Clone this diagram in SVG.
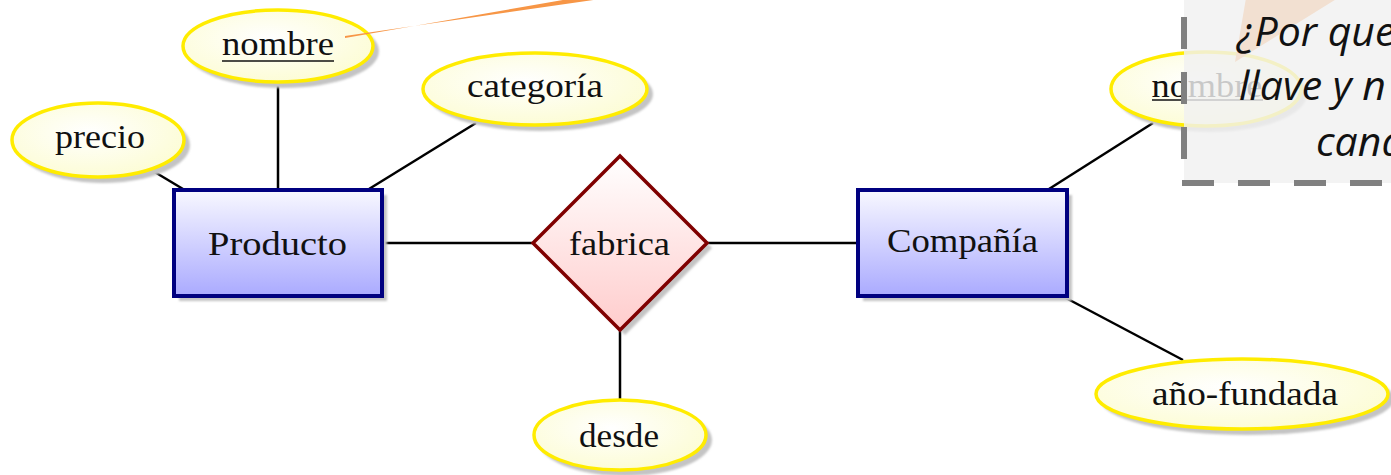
<svg xmlns="http://www.w3.org/2000/svg" width="1391" height="475" viewBox="0 0 1391 475">
<style>
.attr{fill:url(#yg);stroke:#ffec00;stroke-width:3.5}
.shadow{fill:#c4c4c4;filter:url(#bl)}
.ent{fill:url(#bg);stroke:#000080;stroke-width:4}
.rel{fill:url(#rg);stroke:#800000;stroke-width:3.5}
.lbl{font-family:"Liberation Serif","DejaVu Serif",serif;font-size:33px;fill:#111;text-anchor:middle}
.ul{stroke:#111;stroke-width:1.6}
.conn line{stroke:#000;stroke-width:2.5}
.note{font-family:"Open Sans","DejaVu Sans",sans-serif;font-style:italic;font-size:41px;fill:#111}
</style>
<defs>
<radialGradient id="yg" cx="0.45" cy="0.4" r="0.7">
<stop offset="0" stop-color="#ffffff"/>
<stop offset="1" stop-color="#fcfccf"/>
</radialGradient>
<linearGradient id="bg" x1="0" y1="0" x2="0" y2="1">
<stop offset="0" stop-color="#f8f8ff"/>
<stop offset="1" stop-color="#aaaaff"/>
</linearGradient>
<linearGradient id="rg" x1="0" y1="0" x2="0" y2="1">
<stop offset="0" stop-color="#ffffff"/>
<stop offset="1" stop-color="#ffcccc"/>
</linearGradient>
<filter id="bl" x="-10%" y="-10%" width="120%" height="120%"><feGaussianBlur stdDeviation="1.2"/></filter>
</defs>

<g class="conn">
<line x1="383" y1="243" x2="533" y2="243"/>
<line x1="707" y1="243" x2="857" y2="243"/>
<line x1="620" y1="330" x2="620" y2="400"/>
<line x1="278" y1="84" x2="278" y2="190"/>
<line x1="153" y1="171" x2="183" y2="189"/>
<line x1="476" y1="123" x2="369" y2="189"/>
<line x1="1049" y1="189" x2="1153" y2="123"/>
<line x1="1064" y1="297" x2="1183" y2="360"/>
</g>

<g id="precio">
<ellipse class="shadow" cx="103" cy="145" rx="87" ry="38"/>
<ellipse class="attr" cx="98" cy="140" rx="86" ry="37"/>
<text class="lbl" x="100" y="148" textLength="90" lengthAdjust="spacingAndGlyphs">precio</text>
</g>

<g id="nombre">
<ellipse class="shadow" cx="283" cy="51" rx="96" ry="37"/>
<ellipse class="attr" cx="278" cy="46" rx="95" ry="36"/>
<text class="lbl" x="278" y="55" textLength="112" lengthAdjust="spacingAndGlyphs">nombre</text>
<line class="ul" x1="222" y1="61" x2="334" y2="61"/>
</g>

<g id="categoria">
<ellipse class="shadow" cx="540" cy="94" rx="113" ry="37"/>
<ellipse class="attr" cx="535" cy="89" rx="112" ry="36"/>
<text class="lbl" x="535" y="97" textLength="136" lengthAdjust="spacingAndGlyphs">categoría</text>
</g>

<g id="producto">
<rect class="shadow" x="179" y="195" width="208" height="106"/>
<rect class="ent" x="174" y="190" width="208" height="106"/>
<text class="lbl" x="277.5" y="255" textLength="139" lengthAdjust="spacingAndGlyphs">Producto</text>
</g>

<g id="fabrica">
<polygon class="shadow" points="625,161 712,248 625,335 538,248"/>
<polygon class="rel" points="620,156 707,243 620,330 533,243"/>
<text class="lbl" x="619.5" y="255" textLength="101" lengthAdjust="spacingAndGlyphs">fabrica</text>
</g>

<g id="compania">
<rect class="shadow" x="863" y="195" width="209" height="106"/>
<rect class="ent" x="858" y="190" width="209" height="106"/>
<text class="lbl" x="962.5" y="252" textLength="151" lengthAdjust="spacingAndGlyphs">Compañía</text>
</g>

<g id="desde">
<ellipse class="shadow" cx="625" cy="440" rx="87" ry="36"/>
<ellipse class="attr" cx="620" cy="435" rx="86" ry="35"/>
<text class="lbl" x="619" y="447" textLength="80" lengthAdjust="spacingAndGlyphs">desde</text>
</g>

<g id="ano-fundada">
<ellipse class="shadow" cx="1247" cy="399" rx="147" ry="36"/>
<ellipse class="attr" cx="1242" cy="394" rx="146" ry="35"/>
<text class="lbl" x="1245" y="405" textLength="186" lengthAdjust="spacingAndGlyphs">año-fundada</text>
</g>

<g id="nombre2">
<ellipse class="shadow" cx="1211" cy="94" rx="96" ry="38"/>
<ellipse class="attr" cx="1206" cy="89" rx="95" ry="37"/>
<text class="lbl" x="1207" y="97" textLength="111" lengthAdjust="spacingAndGlyphs">nombre</text>
<line class="ul" x1="1152" y1="100" x2="1263" y2="100"/>
</g>

<g id="callout">
<polygon points="345,36 345,38 580,-3 614,-3" fill="#f79646"/>
<polygon points="1235,62 1246,-2 1338,-2" fill="#f79646"/>
<rect x="1184" y="-20" width="260" height="203" fill="#f0f0f0" fill-opacity="0.82"/>
<line x1="1184" y1="17" x2="1184" y2="160" stroke="#808080" stroke-width="6" stroke-dasharray="32 23"/>
<line x1="1182" y1="183" x2="1391" y2="183" stroke="#808080" stroke-width="6" stroke-dasharray="32 24"/>
<text class="note" x="1237" y="46">¿Por que</text>
<text class="note" x="1239" y="100">llave y n</text>
<text class="note" x="1316" y="156">cand</text>
</g>
</svg>
